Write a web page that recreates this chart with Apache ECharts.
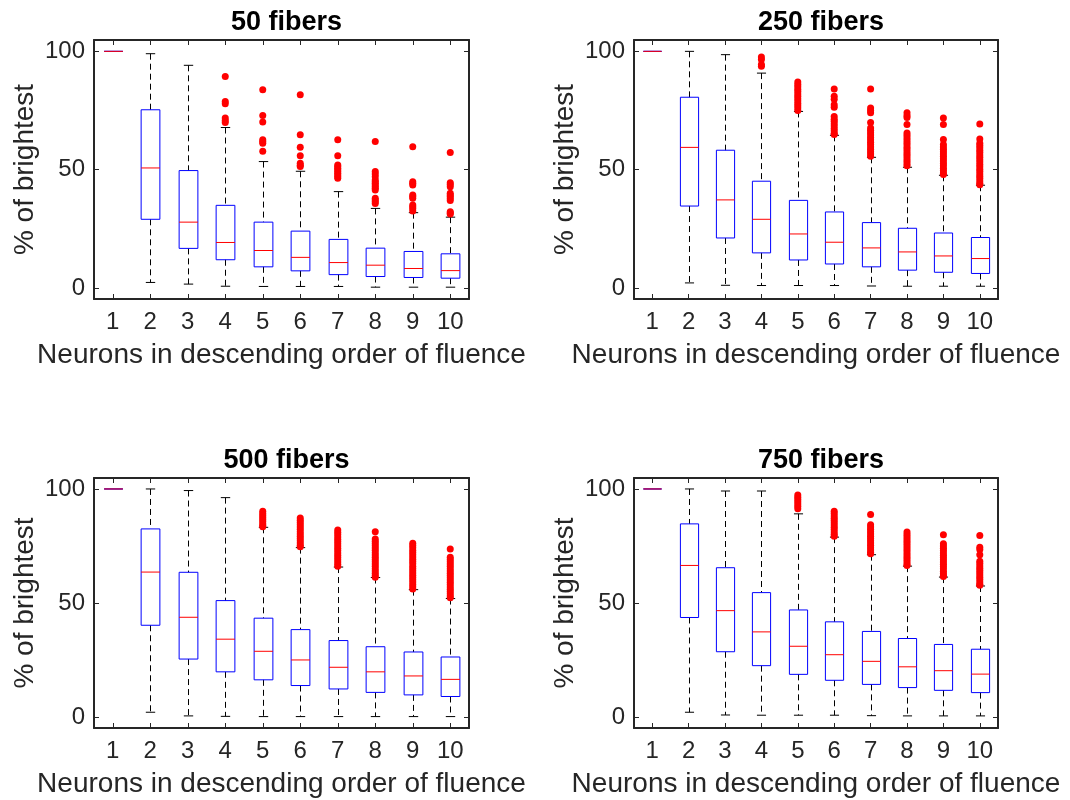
<!DOCTYPE html>
<html>
<head>
<meta charset="utf-8">
<script src="https://cdn.jsdelivr.net/npm/echarts@6/dist/echarts.min.js"></script>
<style>html,body{margin:0;padding:0;background:#fff}#c{width:1070px;height:800px}</style>
</head>
<body>
<div id="c"></div>
<script>
// ---------- data ----------
const categories = ['1','2','3','4','5','6','7','8','9','10'];
const titles = ['50 fibers', '250 fibers', '500 fibers', '750 fibers'];
const xLabel = 'Neurons in descending order of fluence';
const yLabel = '% of brightest';
const yTickValues = [0, 50, 100];

// box stats per neuron: [lower whisker, q1, median, q3, upper whisker]
const box50 = [
  [100,100,100,100,100],
  [2.3, 29.0, 50.7, 75.3, 99.0],
  [1.6, 16.7, 27.8, 49.6, 94.1],
  [0.7, 11.9, 19.2, 34.9, 67.8],
  [0.6, 8.9, 15.8, 27.8, 53.4],
  [0.6, 7.2, 12.9, 24.0, 49.3],
  [0.6, 5.6, 10.7, 20.5, 40.7],
  [0.3, 4.8, 9.6, 16.8, 33.6],
  [0.3, 4.4, 8.2, 15.4, 31.8],
  [0.3, 4.1, 7.3, 14.4, 29.9]
];
const out50 = [
  [], [], [],
  [89.4, 78.8, 77.8, 71.8, 70.8, 69.9],
  [83.8, 72.9, 70.1, 62.6, 61.9, 61.2, 57.8],
  [81.6, 64.7, 59.5, 55.9, 52.7, 51.8, 51.3],
  [62.6, 55.9, 52.0, 51.3, 50.6, 49.9, 49.2, 48.5, 47.7, 47.0, 46.3],
  [61.9, 49.2, 48.1, 47.0, 45.6, 44.9, 44.2, 43.5, 42.8, 42.1, 41.4, 37.9, 37.2, 36.4, 35.7],
  [59.7, 44.9, 44.2, 43.5, 39.3, 38.6, 37.9, 35.0, 34.3, 33.6, 32.5],
  [57.2, 44.5, 43.7, 42.8, 40.0, 39.3, 38.6, 37.8, 36.9, 32.2, 31.7, 31.2]
];

const box250 = [
  [100,100,100,100,100],
  [2.1, 34.6, 59.4, 80.6, 100],
  [1.1, 21.1, 37.2, 58.2, 98.6],
  [1.0, 14.8, 29.0, 45.1, 90.8],
  [1.0, 11.8, 22.8, 37.0, 74.6],
  [1.0, 10.1, 19.3, 32.1, 64.5],
  [0.8, 8.9, 16.9, 27.6, 55.2],
  [0.7, 7.5, 15.2, 25.2, 51.0],
  [0.7, 6.6, 13.5, 23.2, 47.6],
  [0.7, 6.1, 12.4, 21.3, 43.4]
];
const out250 = [
  [], [], [],
  [97.6, 96.6, 94.4, 93.7],
  [87.0, 86.0, 85.0, 84.0, 83.0, 82.0, 81.0, 80.0, 79.0, 78.0, 77.0, 76.0, 75.0],
  [84.1, 81.0, 79.8, 77.4, 76.4, 72.5, 71.3, 70.4, 69.4, 68.4, 67.4, 66.4, 65.4, 64.8],
  [84.1, 76.1, 75.0, 74.0, 69.9, 67.6, 66.6, 65.6, 64.6, 63.6, 62.6, 61.6, 60.6, 59.6, 58.6, 57.6, 56.6, 55.6],
  [74.0, 72.9, 72.0, 69.1, 65.5, 64.5, 63.5, 62.5, 61.5, 60.5, 59.5, 58.5, 57.5, 56.5, 55.5, 54.5, 53.5, 52.5, 51.6],
  [71.8, 69.1, 62.7, 60.6, 59.6, 58.6, 57.6, 56.6, 55.6, 54.6, 53.6, 52.6, 51.6, 50.6, 49.6, 48.6, 47.9],
  [69.3, 62.9, 61.2, 60.2, 59.2, 58.2, 57.2, 56.2, 55.2, 54.2, 53.2, 52.2, 51.2, 50.2, 49.2, 48.2, 47.2, 46.2, 45.2, 44.2, 43.6]
];

const box500 = [
  [100,100,100,100,100],
  [2.2, 40.3, 63.6, 82.5, 100],
  [0.6, 25.5, 43.8, 63.5, 99.3],
  [0.4, 19.9, 34.2, 51.1, 96.2],
  [0.3, 16.4, 28.9, 43.4, 83.2],
  [0.3, 13.9, 25.1, 38.4, 74.3],
  [0.3, 12.4, 21.9, 33.6, 65.8],
  [0.3, 10.9, 19.9, 30.9, 61.2],
  [0.3, 9.8, 18.1, 28.6, 55.9],
  [0.3, 9.1, 16.6, 26.4, 52.0]
];
const out500 = [
  [], [], [], [],
  [90.2, 89.3, 88.4, 87.5, 86.6, 85.7, 84.8, 84.0, 83.5],
  [87.3, 86.3, 85.3, 84.3, 83.3, 82.3, 81.3, 80.3, 79.3, 78.3, 77.3, 76.3, 75.3, 74.7],
  [82.0, 81.0, 80.0, 79.0, 78.0, 77.0, 76.0, 75.0, 74.0, 73.0, 72.0, 71.0, 70.0, 69.0, 68.0, 67.0, 66.1],
  [81.3, 78.1, 77.1, 76.1, 75.1, 74.1, 73.1, 72.1, 71.1, 70.1, 69.1, 68.1, 67.1, 66.1, 65.1, 64.1, 63.1, 62.1, 61.3],
  [76.2, 75.2, 74.2, 73.2, 72.2, 71.2, 70.2, 69.2, 68.2, 67.2, 66.2, 65.2, 64.2, 63.2, 62.2, 61.2, 60.2, 59.2, 58.2, 57.2, 56.2],
  [73.7, 70.1, 69.1, 68.1, 67.1, 66.1, 65.1, 64.1, 63.1, 62.1, 61.1, 60.1, 59.1, 58.1, 57.1, 56.1, 55.1, 54.1, 53.1, 52.3]
];

const box750 = [
  [100,100,100,100,100],
  [2.2, 43.7, 66.5, 84.7, 100],
  [1.0, 28.7, 46.7, 65.5, 99.1],
  [0.9, 22.6, 37.4, 54.6, 99.1],
  [0.9, 18.8, 31.1, 47.0, 89.1],
  [0.9, 16.2, 27.4, 41.8, 78.9],
  [0.7, 14.4, 24.5, 37.6, 71.2],
  [0.6, 13.0, 22.1, 34.5, 66.2],
  [0.6, 11.8, 20.4, 31.9, 61.4],
  [0.6, 10.8, 18.9, 29.8, 57.5]
];
const out750 = [
  [], [], [], [],
  [97.4, 96.4, 95.4, 94.4, 93.4, 92.4, 91.3],
  [90.2, 89.2, 88.2, 87.2, 86.2, 85.2, 84.2, 83.2, 82.2, 81.2, 80.2, 79.3],
  [88.8, 84.3, 83.3, 82.3, 81.3, 80.3, 79.3, 78.3, 77.3, 76.3, 75.3, 74.3, 73.3, 72.3, 71.6],
  [81.1, 80.1, 79.1, 78.1, 77.1, 76.1, 75.1, 74.1, 73.1, 72.1, 71.1, 70.1, 69.1, 68.1, 67.1, 66.5],
  [79.9, 76.0, 75.0, 74.0, 73.0, 72.0, 71.0, 70.0, 69.0, 68.0, 67.0, 66.0, 65.0, 64.0, 63.0, 62.0, 61.7],
  [79.6, 74.5, 73.5, 71.2, 68.3, 67.3, 66.3, 65.3, 64.3, 63.3, 62.3, 61.3, 60.3, 59.3, 58.3, 57.8]
];

const boxes = [box50, box250, box500, box750];
const outliers = [out50, out250, out500, out750];

// ---------- chart ----------
const FONT = '"Liberation Sans", Arial, Helvetica, sans-serif';
const FRAME = '#262626';
const grids = [
  {left: 94,  top: 40,  width: 375, height: 259},
  {left: 634, top: 40,  width: 364, height: 259},
  {left: 94,  top: 478, width: 375, height: 250},
  {left: 634, top: 478, width: 364, height: 250}
];

function renderBox(params, api) {
  const c = api.value(0);
  const lo = api.value(1), q1 = api.value(2), med = api.value(3), q3 = api.value(4), hi = api.value(5);
  const band = api.size([1, 0])[0];
  const hw = band * 0.25;
  const cw = band * 0.125;
  const x = Math.round(api.coord([c, 0])[0]) + 0.5;
  const y = v => api.coord([c, v])[1];
  const dash = {stroke: '#000', lineWidth: 1, lineDash: [6, 4]};
  const solid = {stroke: '#000', lineWidth: 1};
  const children = [];
  if (hi > q3) children.push({type: 'line', shape: {x1: x, y1: y(hi), x2: x, y2: y(q3)}, style: dash});
  if (q1 > lo) children.push({type: 'line', shape: {x1: x, y1: y(q1), x2: x, y2: y(lo)}, style: dash});
  if (hi > q3) children.push({type: 'line', shape: {x1: x - cw, y1: y(hi), x2: x + cw, y2: y(hi)}, style: solid});
  if (q1 > lo) children.push({type: 'line', shape: {x1: x - cw, y1: y(lo), x2: x + cw, y2: y(lo)}, style: solid});
  children.push({type: 'rect', shape: {x: x - hw, y: y(q3), width: 2 * hw, height: y(q1) - y(q3)},
                 style: {fill: 'none', stroke: '#0000ff', lineWidth: 1}});
  children.push({type: 'line', shape: {x1: x - hw, y1: y(med), x2: x + hw, y2: y(med)},
                 style: {stroke: '#ff0000', lineWidth: 1}});
  return {type: 'group', children};
}

const option = {
  animation: false,
  backgroundColor: '#fff',
  title: [], grid: [], xAxis: [], yAxis: [], series: []
};

grids.forEach((g, i) => {
  option.grid.push(Object.assign({containLabel: false}, g));
  option.title.push({
    text: titles[i], left: g.left + g.width / 2, top: g.top - 36, textAlign: 'center',
    textStyle: {fontFamily: FONT, fontSize: 27, fontWeight: 'bold', color: '#000'}
  });
  const tick = {show: true, inside: true, length: 5, lineStyle: {color: FRAME, width: 1}};
  const line = {show: true, onZero: false, lineStyle: {color: FRAME, width: 2}};
  option.xAxis.push({
    type: 'category', gridIndex: i, data: categories, boundaryGap: true, position: 'bottom',
    axisLine: line, axisTick: Object.assign({alignWithLabel: true}, tick),
    axisLabel: {fontFamily: FONT, fontSize: 24, color: FRAME, margin: 11, interval: 0},
    splitLine: {show: false},
    name: xLabel, nameLocation: 'middle', nameGap: 42,
    nameTextStyle: {fontFamily: FONT, fontSize: 28, color: FRAME}
  });
  option.xAxis.push({
    type: 'category', gridIndex: i, data: categories, boundaryGap: true, position: 'top',
    axisLine: line, axisTick: Object.assign({alignWithLabel: true}, tick),
    axisLabel: {show: false}, splitLine: {show: false}
  });
  option.yAxis.push({
    type: 'value', gridIndex: i, min: -4.7, max: 104.8, splitNumber: 2, position: 'left',
    axisLine: line, axisTick: tick, splitLine: {show: false},
    axisLabel: {fontFamily: FONT, fontSize: 24, color: FRAME, margin: 9,
      formatter: v => (yTickValues.indexOf(v) >= 0 ? String(v) : '')},
    name: yLabel, nameLocation: 'middle', nameGap: 55,
    nameTextStyle: {fontFamily: FONT, fontSize: 28, color: FRAME}
  });
  option.yAxis.push({
    type: 'value', gridIndex: i, min: -4.7, max: 104.8, splitNumber: 2, position: 'right',
    axisLine: line, axisTick: tick, splitLine: {show: false}, axisLabel: {show: false}
  });
  option.series.push({
    type: 'custom', xAxisIndex: 2 * i, yAxisIndex: 2 * i,
    renderItem: renderBox, clip: false,
    encode: {x: 0, y: [1, 2, 3, 4, 5]},
    data: boxes[i].map((b, k) => [k].concat(b)),
    z: 2
  });
  const pts = [];
  outliers[i].forEach((arr, k) => arr.forEach(v => pts.push([k, v])));
  option.series.push({
    type: 'scatter', xAxisIndex: 2 * i, yAxisIndex: 2 * i,
    symbol: 'circle', symbolSize: 7, itemStyle: {color: '#ff0000', opacity: 1},
    data: pts, z: 3, silent: true
  });
});

const chart = echarts.init(document.getElementById('c'), null, {renderer: 'canvas'});
chart.setOption(option);
</script>
</body>
</html>
